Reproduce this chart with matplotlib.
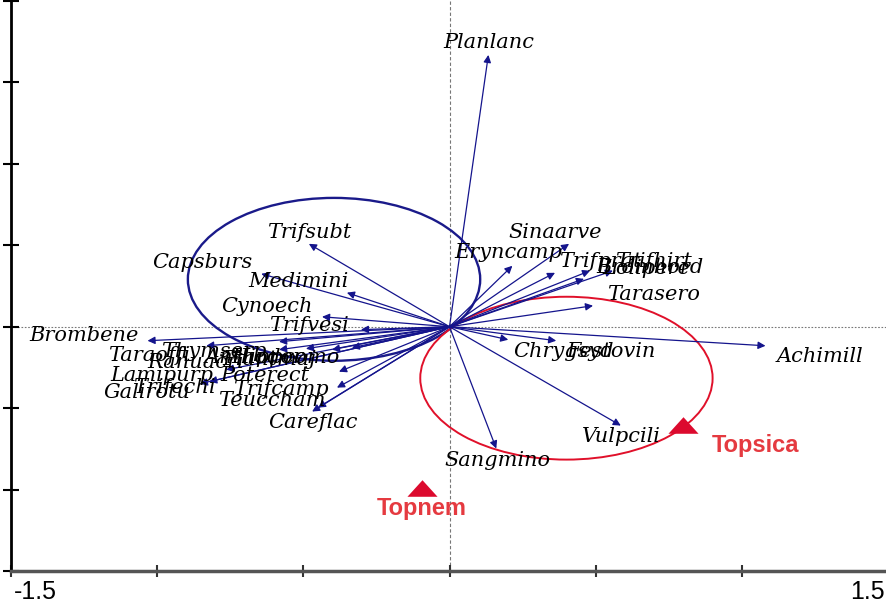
import matplotlib
matplotlib.use("Agg")
import matplotlib.pyplot as plt
import matplotlib.transforms as mtransforms
from matplotlib.patches import Circle

# ---- data (species scores) ----
species = ["Planlanc", "Sinaarve", "Eryncamp", "Trifprat", "Trifhirt", "Bromhord", "Lolipere",
           "Tarasero", "Achimill", "Chrygsyd", "Festovin", "Vulpcili", "Sangmino",
           "Trifsubt", "Capsburs", "Medimini", "Cynoech", "Trifvesi", "Brombene",
           "Taraoffi", "Thymserp", "Ranuacri", "Anthodor", "Hippcomo", "Plantmaj",
           "Lamipurp", "Poterect", "Trifechi", "Trifcamp", "Galirotu", "Teuccham", "Careflac"]
sp_x = [0.133, 0.409, 0.215, 0.361, 0.559, 0.481, 0.460,
        0.491, 1.081, 0.201, 0.365, 0.586, 0.160,
        -0.481, -0.644, -0.351, -0.436, -0.303, -1.033,
        -0.832, -0.583, -0.583, -0.491, -0.402, -0.334,
        -0.764, -0.378, -0.822, -0.385, -0.854, -0.450, -0.470]
sp_y = [1.669, 0.509, 0.374, 0.331, 0.344, 0.344, 0.294,
        0.129, -0.117, -0.080, -0.086, -0.607, -0.748,
        0.509, 0.325, 0.209, 0.061, -0.018, -0.086,
        -0.117, -0.092, -0.141, -0.135, -0.141, -0.129,
        -0.264, -0.276, -0.337, -0.374, -0.350, -0.497, -0.521]

# label offsets from arrow tips (pixels)
lab_dx = [0, -14, -4, 45, 40, 60, 62,
          60, 54, 55, 55, 1, 1,
          0, -59, -48, -55, -52, -64,
          -57, -65, -83, -52, -46, -83,
          -64, -74, -35, -56, -53, -46, 1]
lab_dy = [12, 11, 13, 11, 9, 3, 10,
          11, -11, -12, -11, -11, -12,
          11, 11, 11, 10, 4, 5,
          -10, -10, -13, -9, -8, -12,
          -6, -4, -6, -2, -9, 7, -11]

# samples (centroids)
samp_names = ["Topsica", "Topnem"]
samp_x = [0.798, -0.095]
samp_y = [-0.601, -0.988]

# circles
circ_cx = [-0.395, 0.400]
circ_cy = [0.291, -0.316]
circ_r = [0.5, 0.5]
circ_col = ["#1a1a8a", "#e0102a"]
circ_lw = [1.7, 1.4]

xticks = [-1.5, -1.0, -0.5, 0.0, 0.5, 1.0, 1.5]
xticklabels = ["-1.5", "", "", "", "", "", "1.5"]
yticks = [-1.5, -1.0, -0.5, 0.0, 0.5, 1.0, 1.5, 2.0]

fig = plt.figure(figsize=(8.86, 6.04), dpi=100)
ax = fig.add_axes([11 / 886, 33 / 604, 877 / 886, 570 / 604])
ax.set_xlim(-1.5, 1.5)
ax.set_ylim(-1.5, 2.0)

ax.axhline(0, color="#777777", lw=0.8, ls=(0, (1.5, 1.5)), zorder=1)
ax.axvline(0, color="#777777", lw=0.8, ls=(0, (3, 2)), zorder=1)

for cx, cy, r, c, lw in zip(circ_cx, circ_cy, circ_r, circ_col, circ_lw):
    ax.add_patch(Circle((cx, cy), r, fill=False, ec=c, lw=lw, zorder=2))

arrow_col = "#14148c"
for name, x, y, dx, dy in zip(species, sp_x, sp_y, lab_dx, lab_dy):
    ax.annotate("", xy=(x, y), xytext=(0, 0),
                arrowprops=dict(arrowstyle="-|>", color=arrow_col, lw=0.9,
                                mutation_scale=11, shrinkA=0, shrinkB=0),
                zorder=3)
    ax.annotate(name, xy=(x, y), xytext=(dx, dy), textcoords="offset pixels",
                ha="center", va="center", fontsize=15, fontstyle="italic",
                family="DejaVu Serif", color="black", zorder=4)

tri = [(-1.0, -0.55), (1.0, -0.55), (0.0, 0.55)]
ax.scatter(samp_x, samp_y, marker=tri, s=470, color="#dc0a2e", zorder=5, linewidths=0)
samp_dx = [73, 0]
samp_dy = [-21, -21]
for n, x, y, dx, dy in zip(samp_names, samp_x, samp_y, samp_dx, samp_dy):
    ax.annotate(n, xy=(x, y), xytext=(dx, dy), textcoords="offset pixels",
                ha="center", va="center", fontsize=17, fontweight="bold",
                family="Liberation Sans", color="#e53a40", zorder=5)

for s in ["top", "right"]:
    ax.spines[s].set_visible(False)
ax.spines["left"].set_color("black")
ax.spines["left"].set_linewidth(2.0)
ax.spines["bottom"].set_color("#555555")
ax.spines["bottom"].set_linewidth(2.5)

ax.set_xticks(xticks)
ax.set_xticklabels(xticklabels, family="Liberation Sans", fontsize=18)
ax.set_yticks(yticks)
ax.set_yticklabels([])
ax.tick_params(axis="x", direction="inout", length=9, width=1.5, colors="#333333", pad=2,
               labelcolor="black")
ax.tick_params(axis="y", direction="inout", length=12, width=1.5, colors="black")
labs = ax.get_xticklabels()
labs[0].set_ha("left")
labs[0].set_transform(labs[0].get_transform() +
                      mtransforms.ScaledTranslation(3 / 100, 0, fig.dpi_scale_trans))
labs[-1].set_ha("right")
labs[-1].set_transform(labs[-1].get_transform() +
                       mtransforms.ScaledTranslation(-3 / 100, 0, fig.dpi_scale_trans))

fig.savefig("out.png", dpi=100)
